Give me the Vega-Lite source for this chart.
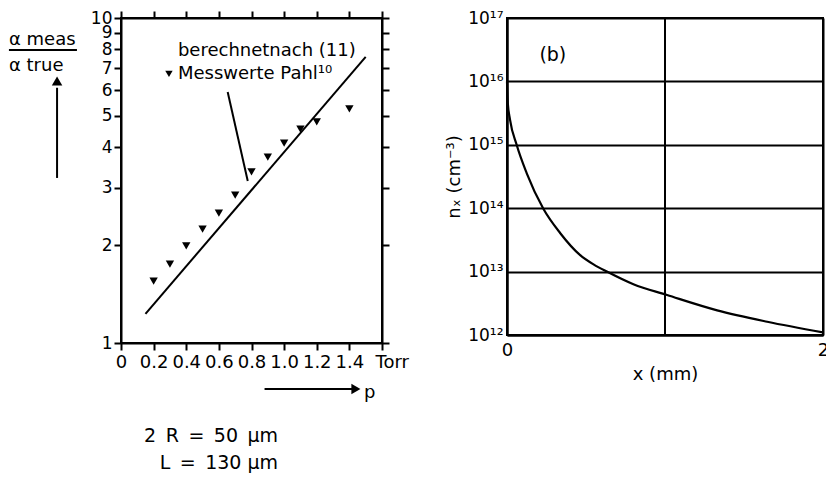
{
  "$schema": "https://vega.github.io/schema/vega-lite/v6.json",
  "background": "white",
  "padding": {"left": 3, "top": 8, "right": 0, "bottom": 0},
  "bounds": "flush",
  "spacing": 125,
  "config": {
    "font": "DejaVu Sans",
    "view": {"stroke": "black", "strokeWidth": 2},
    "axis": {"domainColor": "black", "domainWidth": 2, "tickColor": "black", "tickWidth": 2, "labelColor": "black", "titleColor": "black", "labelFont": "DejaVu Sans", "titleFont": "DejaVu Sans", "titleFontWeight": "normal"},
    "text": {"font": "DejaVu Sans", "color": "black"}
  },
  "datasets": {
    "meas": [
      {"p": 0.2, "r": 1.55}, {"p": 0.3, "r": 1.75}, {"p": 0.4, "r": 1.99}, {"p": 0.5, "r": 2.24},
      {"p": 0.6, "r": 2.51}, {"p": 0.7, "r": 2.85}, {"p": 0.8, "r": 3.36}, {"p": 0.9, "r": 3.73},
      {"p": 1.0, "r": 4.12}, {"p": 1.1, "r": 4.55}, {"p": 1.2, "r": 4.79}, {"p": 1.4, "r": 5.25}
    ],
    "calc": [{"p": 0.15, "r": 1.23}, {"p": 1.5, "r": 7.59}],
    "segs": [
      {"seg": "pointer", "p": 0.654, "r": 5.92}, {"seg": "pointer", "p": 0.777, "r": 3.15},
      {"seg": "frac", "p": -0.687, "r": 7.97}, {"seg": "frac", "p": -0.27, "r": 7.97},
      {"seg": "up", "p": -0.392, "r": 3.22}, {"seg": "up", "p": -0.392, "r": 6.1},
      {"seg": "right", "p": 0.88, "r": 0.722}, {"seg": "right", "p": 1.42, "r": 0.722}
    ],
    "legendMark": [{"p": 0.294, "r": 6.73}],
    "upHead": [{"p": -0.392, "r": 6.4}],
    "rightHead": [{"p": 1.44, "r": 0.722}],
    "leftTexts": [
      {"p": 0.349, "r": 7.91, "label": "berechnetnach (11)"},
      {"p": 0.349, "r": 6.73, "label": "Messwerte Pahl¹⁰"},
      {"p": -0.687, "r": 8.56, "label": "α meas"},
      {"p": -0.687, "r": 7.12, "label": "α true"},
      {"p": 1.49, "r": 0.70, "label": "p"}
    ],
    "params": [
      {"p": 0.963, "r": 0.517, "label": "2\u2002R\u2002=\u200250\u2002μm"},
      {"p": 0.963, "r": 0.427, "label": "L\u2002=\u2002130 μm"}
    ],
    "density": [
      {"x": 0.0, "n": 1.0e16}, {"x": 0.005, "n": 4.57e15}, {"x": 0.019, "n": 2.5e15},
      {"x": 0.061, "n": 1.0e15}, {"x": 0.125, "n": 3.55e14}, {"x": 0.23, "n": 9.8e13},
      {"x": 0.336, "n": 4.07e13}, {"x": 0.463, "n": 1.82e13}, {"x": 0.55, "n": 1.29e13},
      {"x": 0.632, "n": 1.0e13}, {"x": 0.8, "n": 6.31e12}, {"x": 1.013, "n": 4.27e12},
      {"x": 1.33, "n": 2.45e12}, {"x": 1.647, "n": 1.62e12}, {"x": 2.0, "n": 1.1e12}
    ],
    "bLabel": [{"x": 0.29, "n": 2.6e16, "label": "(b)"}],
    "vgrid": [{"x": 1}]
  },
  "hconcat": [
    {
      "width": 261,
      "height": 325,
      "layer": [
        {
          "data": {"name": "meas"},
          "mark": {"type": "point", "shape": "triangle-down", "filled": true, "color": "black", "size": 70, "opacity": 1},
          "encoding": {
            "x": {"field": "p", "type": "quantitative", "scale": {"domain": [0, 1.6], "nice": false, "zero": false},
                  "axis": {"orient": "bottom", "title": null, "values": [0, 0.2, 0.4, 0.6, 0.8, 1.0, 1.2, 1.4, 1.6], "labelExpr": "datum.value == 1.6 ? 'Torr' : (datum.value == 0 ? '0' : format(datum.value, '.1f'))", "labelAlign": {"condition": {"test": "datum.value == 1.6", "value": "left"}, "value": "center"}, "labelOffset": {"condition": {"test": "datum.value == 1.6", "value": -7}, "value": 0}, "labelFontSize": 18, "tickSize": 7, "labelPadding": 3, "grid": false, "labelFlush": false}},
            "y": {"field": "r", "type": "quantitative", "scale": {"type": "log", "domain": [1, 10], "nice": false},
                  "axis": {"orient": "left", "title": null, "values": [1, 2, 3, 4, 5, 6, 7, 8, 9, 10], "format": "d", "labelFontSize": 17, "tickSize": 7, "labelPadding": 2, "grid": false, "labelFlush": false, "labelOverlap": false}}
          }
        },
        {
          "data": {"name": "calc"},
          "mark": {"type": "line", "color": "black", "strokeWidth": 2},
          "encoding": {
            "x": {"field": "p", "type": "quantitative", "axis": {"orient": "top", "title": null, "values": [0, 0.2, 0.4, 0.6, 0.8, 1.0, 1.2, 1.4, 1.6], "labels": false, "tickSize": 7, "grid": false}},
            "y": {"field": "r", "type": "quantitative", "axis": {"orient": "right", "title": null, "values": [1, 2, 3, 4, 5, 6, 7, 8, 9, 10], "labels": false, "tickSize": 7, "grid": false}}
          }
        },
        {
          "data": {"name": "segs"},
          "mark": {"type": "line", "color": "black", "strokeWidth": 2, "clip": false},
          "encoding": {
            "x": {"field": "p", "type": "quantitative", "axis": null},
            "y": {"field": "r", "type": "quantitative", "axis": null},
            "detail": {"field": "seg"}
          }
        },
        {
          "data": {"name": "legendMark"},
          "mark": {"type": "point", "shape": "triangle-down", "filled": true, "color": "black", "size": 55, "opacity": 1},
          "encoding": {
            "x": {"field": "p", "type": "quantitative", "axis": null},
            "y": {"field": "r", "type": "quantitative", "axis": null}
          }
        },
        {
          "data": {"name": "upHead"},
          "mark": {"type": "point", "shape": "triangle-up", "filled": true, "color": "black", "size": 110, "opacity": 1, "clip": false},
          "encoding": {
            "x": {"field": "p", "type": "quantitative", "axis": null},
            "y": {"field": "r", "type": "quantitative", "axis": null}
          }
        },
        {
          "data": {"name": "rightHead"},
          "mark": {"type": "point", "shape": "triangle-right", "filled": true, "color": "black", "size": 110, "opacity": 1, "clip": false},
          "encoding": {
            "x": {"field": "p", "type": "quantitative", "axis": null},
            "y": {"field": "r", "type": "quantitative", "axis": null}
          }
        },
        {
          "data": {"name": "leftTexts"},
          "mark": {"type": "text", "align": "left", "baseline": "middle", "fontSize": 18, "clip": false},
          "encoding": {
            "x": {"field": "p", "type": "quantitative", "axis": null},
            "y": {"field": "r", "type": "quantitative", "axis": null},
            "text": {"field": "label"}
          }
        },
        {
          "data": {"name": "params"},
          "mark": {"type": "text", "align": "right", "baseline": "middle", "fontSize": 19, "clip": false},
          "encoding": {
            "x": {"field": "p", "type": "quantitative", "axis": null},
            "y": {"field": "r", "type": "quantitative", "axis": null},
            "text": {"field": "label"}
          }
        }
      ]
    },
    {
      "width": 316,
      "height": 317,
      "layer": [
        {
          "data": {"name": "vgrid"},
          "mark": {"type": "rule", "color": "black", "strokeWidth": 2},
          "encoding": {
            "x": {"field": "x", "type": "quantitative"}
          }
        },
        {
          "data": {"name": "density"},
          "mark": {"type": "line", "color": "black", "strokeWidth": 2.2, "interpolate": "monotone"},
          "encoding": {
            "x": {"field": "x", "type": "quantitative", "scale": {"domain": [0, 2], "nice": false},
                  "axis": {"title": "x (mm)", "titleFontSize": 18, "titlePadding": 6, "values": [0, 1, 2], "format": "d", "labelFontSize": 18, "tickSize": 0, "domainWidth": 2, "labelPadding": 6, "grid": true, "gridColor": "black", "gridWidth": 2, "gridOpacity": 1, "labelFlush": false}},
            "y": {"field": "n", "type": "quantitative", "scale": {"type": "log", "domain": [1e12, 1e17], "nice": false},
                  "axis": {"title": "nₓ (cm⁻³)", "titleFontSize": 18, "titlePadding": 4, "values": [1e12, 1e13, 1e14, 1e15, 1e16, 1e17], "labelExpr": "datum.value < 5e12 ? '10¹²' : datum.value < 5e13 ? '10¹³' : datum.value < 5e14 ? '10¹⁴' : datum.value < 5e15 ? '10¹⁵' : datum.value < 5e16 ? '10¹⁶' : '10¹⁷'", "labelFontSize": 17, "tickSize": 0, "domainWidth": 2, "labelPadding": 4, "grid": true, "gridColor": "black", "gridWidth": 2, "gridOpacity": 1, "labelFlush": false, "labelOverlap": false}}
          }
        },
        {
          "data": {"name": "bLabel"},
          "mark": {"type": "text", "align": "center", "baseline": "middle", "fontSize": 19},
          "encoding": {
            "x": {"field": "x", "type": "quantitative"},
            "y": {"field": "n", "type": "quantitative"},
            "text": {"field": "label"}
          }
        }
      ]
    }
  ]
}
